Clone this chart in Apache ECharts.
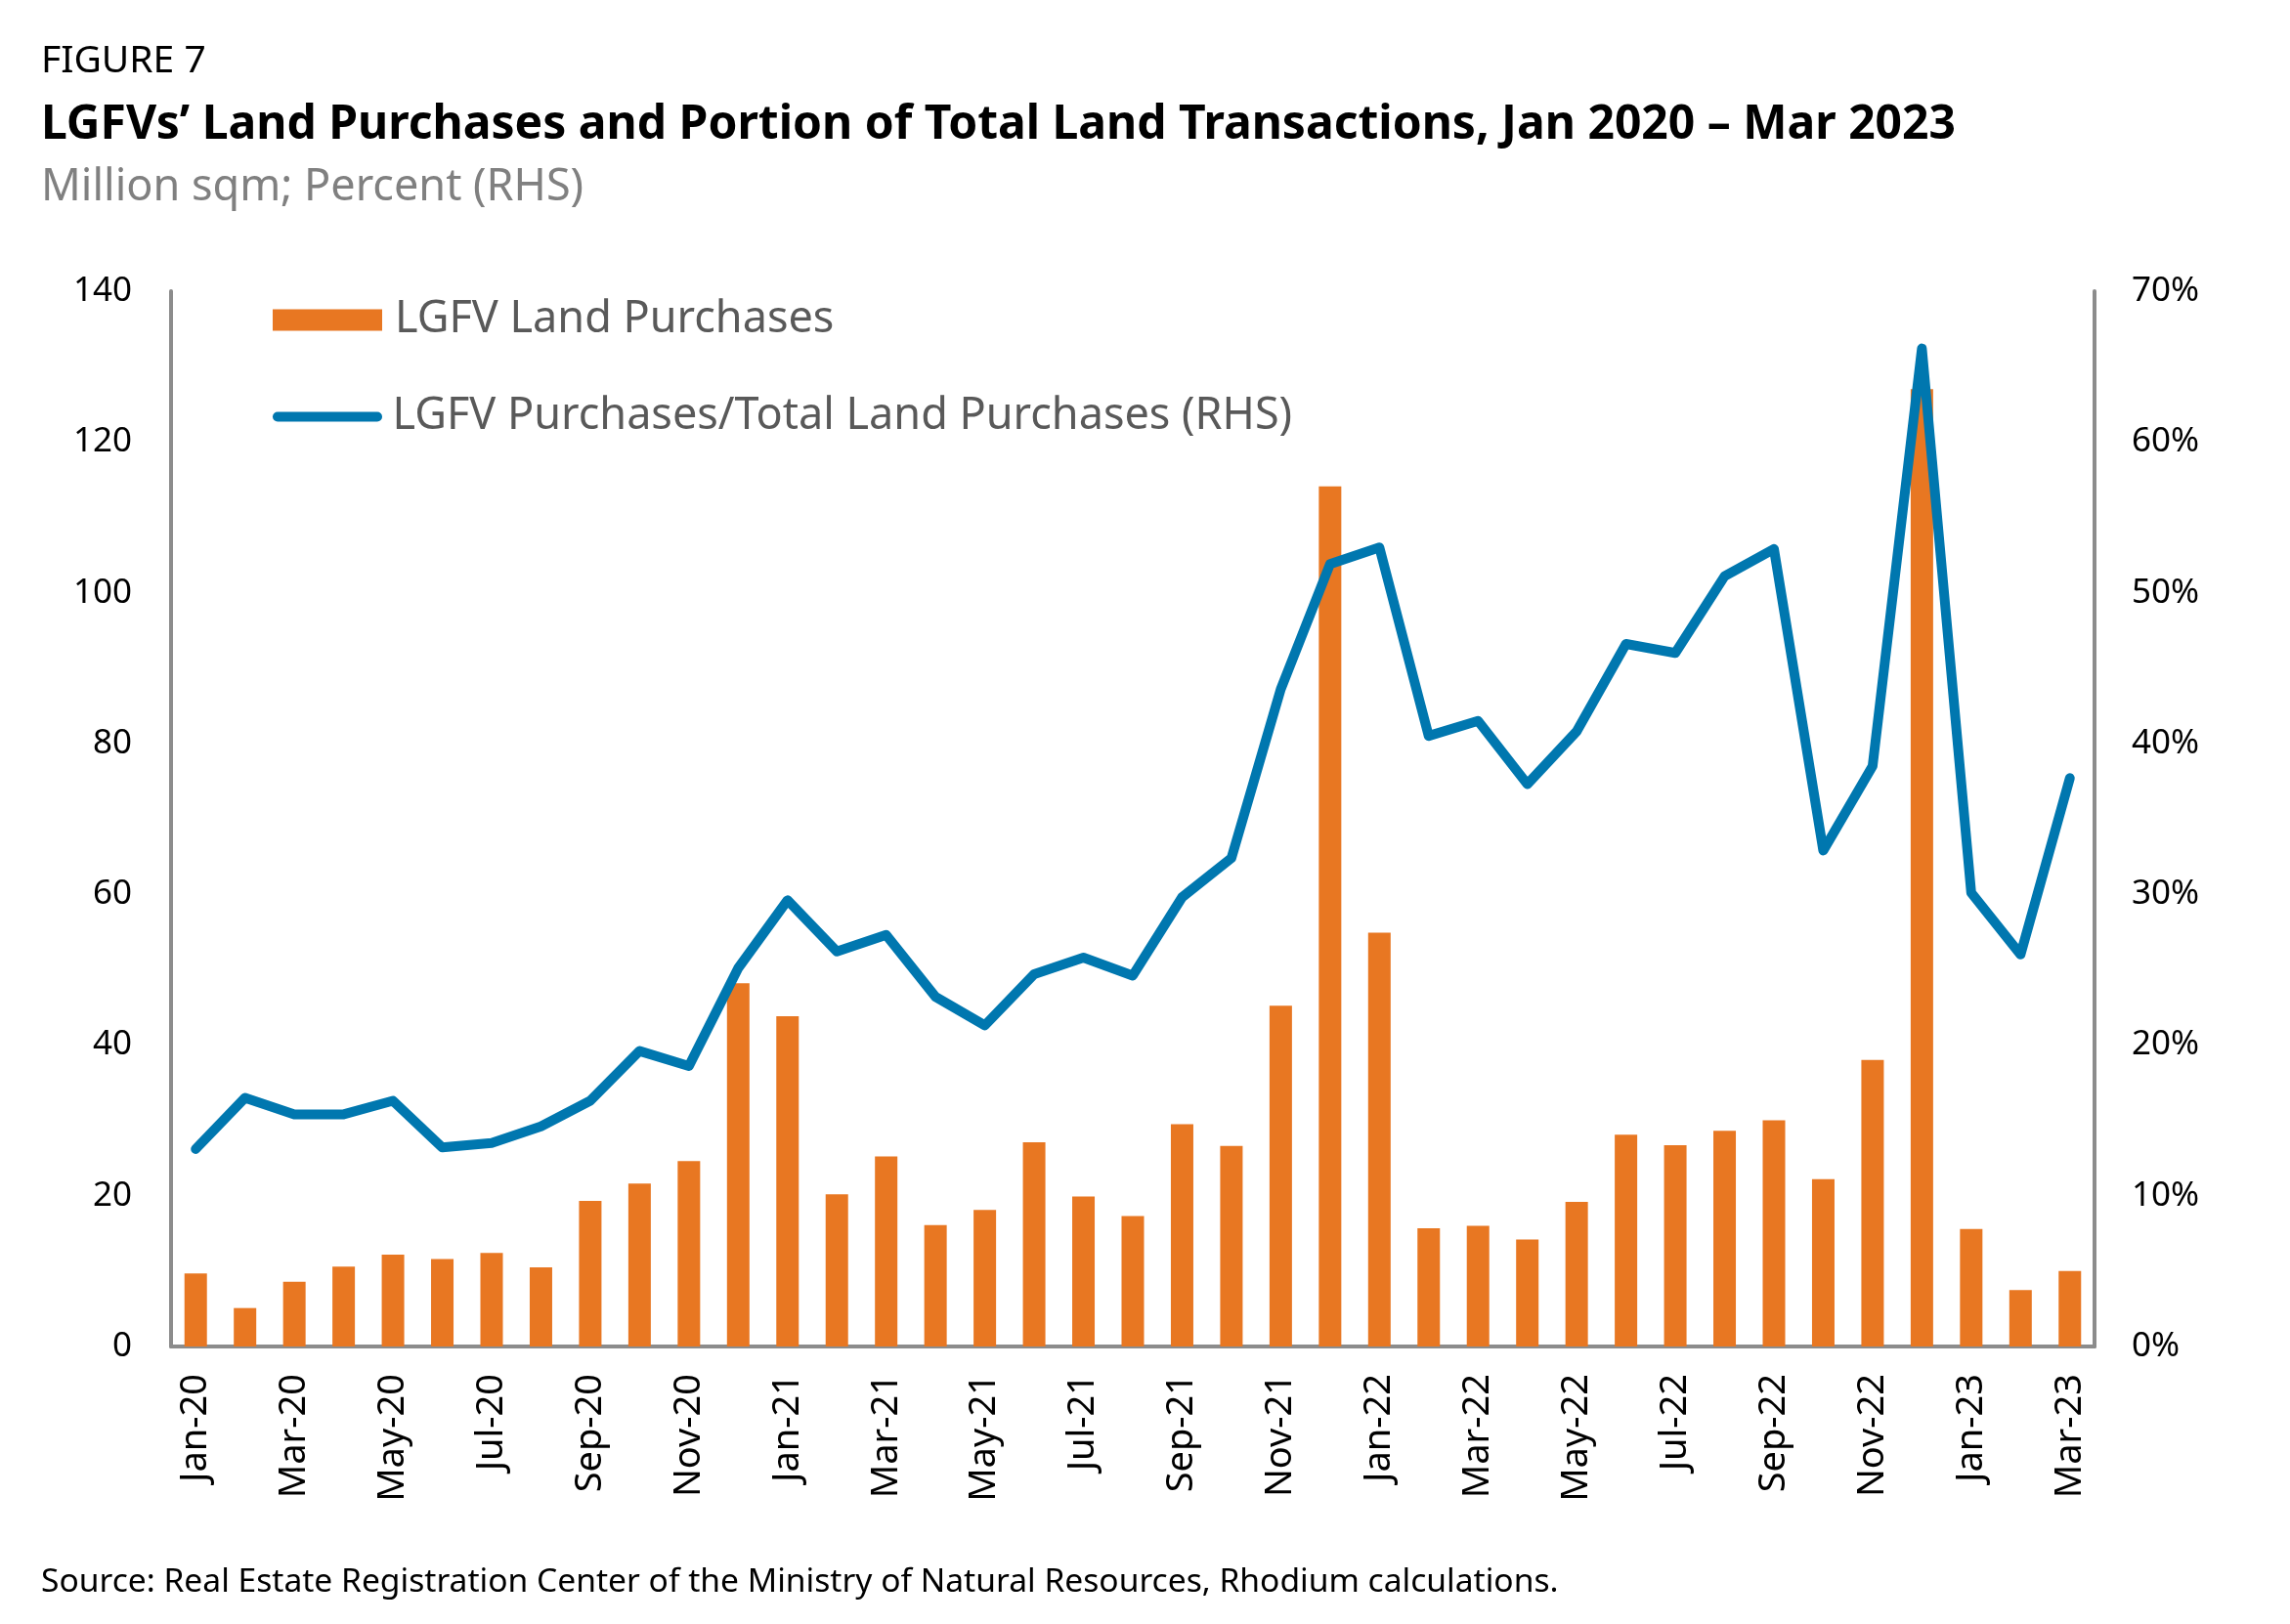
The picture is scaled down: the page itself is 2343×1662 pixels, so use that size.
<!DOCTYPE html>
<html>
<head>
<meta charset="utf-8">
<script src="https://cdn.jsdelivr.net/npm/echarts@6/dist/echarts.min.js"></script>
<style>
html,body{margin:0;padding:0;background:#fff;}
#chart{width:2343px;height:1662px;}
</style>
</head>
<body>
<div id="chart"></div>
<script>
const categories = ["Jan-20","Feb-20","Mar-20","Apr-20","May-20","Jun-20","Jul-20","Aug-20","Sep-20","Oct-20","Nov-20","Dec-20",
  "Jan-21","Feb-21","Mar-21","Apr-21","May-21","Jun-21","Jul-21","Aug-21","Sep-21","Oct-21","Nov-21","Dec-21",
  "Jan-22","Feb-22","Mar-22","Apr-22","May-22","Jun-22","Jul-22","Aug-22","Sep-22","Oct-22","Nov-22","Dec-22",
  "Jan-23","Feb-23","Mar-23"];
const landPurchases = [9.7,5.1,8.6,10.6,12.2,11.6,12.4,10.5,19.3,21.6,24.6,48.2,
  43.8,20.2,25.2,16.1,18.1,27.1,19.9,17.3,29.5,26.6,45.2,114.1,
  54.9,15.7,16.0,14.2,19.2,28.1,26.7,28.6,30.0,22.2,38.0,127.0,
  15.6,7.5,10.0];
const sharePct = [13.1,16.5,15.4,15.4,16.3,13.2,13.5,14.6,16.3,19.6,18.6,25.1,
  29.6,26.2,27.3,23.2,21.3,24.7,25.8,24.6,29.8,32.4,43.6,51.9,
  53.0,40.5,41.5,37.3,40.8,46.6,46.0,51.1,52.9,32.9,38.5,66.2,
  30.1,26.0,37.7];
const leftTicks = {min:0, max:140, interval:20};
const rightTicks = {min:0, max:70, interval:10};
const seriesNames = ["LGFV Land Purchases","LGFV Purchases/Total Land Purchases (RHS)"];

const FONT = "'Noto Sans', 'Open Sans', sans-serif";
const legendText1 = {fontFamily:FONT, fontSize:45, color:'#595959', padding:[0,0,0,8]};
const legendText2 = {fontFamily:FONT, fontSize:45, color:'#595959', padding:[0,0,0,3]};
const pillIcon = 'path://M5,0 L107,0 A5,5 0 0 1 107,10 L5,10 A5,5 0 0 1 5,0 Z';
const chart = echarts.init(document.getElementById('chart'));
chart.setOption({
  animation:false,
  backgroundColor:'#ffffff',
  title:[
    {text:'FIGURE 7', left:37, top:38, textStyle:{fontFamily:FONT, fontSize:39, fontWeight:'normal', color:'#000'}},
    {text:'LGFVs\u2019 Land Purchases and Portion of Total Land Transactions, Jan 2020 \u2013 Mar 2023', left:37, top:99,
      textStyle:{fontFamily:FONT, fontSize:48, fontWeight:'bold', color:'#000'}},
    {text:'Million sqm; Percent (RHS)', left:37, top:165, textStyle:{fontFamily:FONT, fontSize:45, fontWeight:'normal', color:'#808080'}},
    {text:'Source: Real Estate Registration Center of the Ministry of Natural Resources, Rhodium calculations.', left:37, top:1597,
      textStyle:{fontFamily:FONT, fontSize:33.6, fontWeight:'normal', color:'#000'}}
  ],
  legend:[
    {orient:'vertical', left:274, top:300, itemWidth:112, itemHeight:22,
      textStyle:legendText1, data:[{name:seriesNames[0], icon:'rect'}]},
    {orient:'vertical', left:274, top:399, itemWidth:117, itemHeight:10,
      textStyle:legendText2, data:[{name:seriesNames[1], icon:pillIcon}]}
  ],
  grid:{left:175, right:200, top:298, height:1080, containLabel:false},
  xAxis:{
    type:'category', data:categories, boundaryGap:true,
    axisLine:{show:true, lineStyle:{color:'#8c8c8c', width:4}},
    axisTick:{show:false},
    axisLabel:{interval:1, rotate:90, margin:28, fontFamily:FONT, fontSize:38, color:'#000'}
  },
  yAxis:[
    {type:'value', min:leftTicks.min, max:leftTicks.max, interval:leftTicks.interval,
      axisLine:{show:true, lineStyle:{color:'#8c8c8c', width:4}}, axisTick:{show:false}, splitLine:{show:false},
      axisLabel:{margin:40, fontFamily:FONT, fontSize:35, color:'#000'}},
    {type:'value', min:rightTicks.min, max:rightTicks.max, interval:rightTicks.interval, position:'right',
      axisLine:{show:true, lineStyle:{color:'#8c8c8c', width:4}}, axisTick:{show:false}, splitLine:{show:false},
      axisLabel:{margin:38, fontFamily:FONT, fontSize:35, color:'#000', formatter:'{value}%'}}
  ],
  series:[
    {name:seriesNames[0], type:'bar', data:landPurchases, barWidth:23, itemStyle:{color:'#E87722'}, z:2},
    {name:seriesNames[1], type:'line', yAxisIndex:1, data:sharePct, symbol:'none', showSymbol:false,
      lineStyle:{color:'#0077AF', width:10, cap:'round', join:'round'}, itemStyle:{color:'#0077AF'}, z:3}
  ]
});
</script>
</body>
</html>
